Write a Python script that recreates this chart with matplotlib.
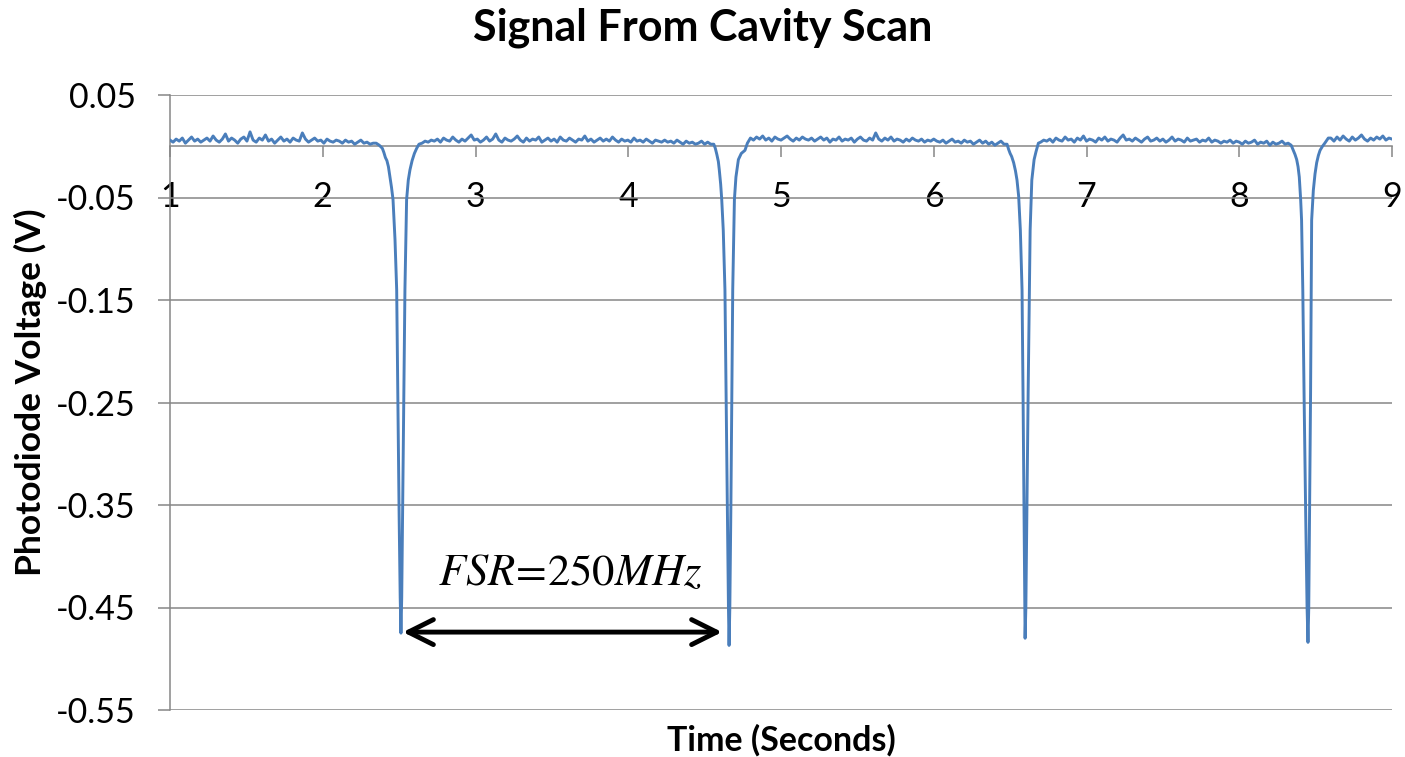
import numpy as np
import matplotlib
matplotlib.use("Agg")
import matplotlib.pyplot as plt

plt.rcParams['font.family'] = ['Lato', 'DejaVu Sans']
plt.rcParams['mathtext.fontset'] = 'stix'

# photodiode trace, baseline stretches (mV) sampled evenly between the given times
base_a_span = (1.00, 2.33)
base_a_mv = [6, 4, 7, 5, 8, 3, 6, 9, 5, 7,
             4, 6, 8, 5, 10, 6, 4, 7, 12, 5,
             8, 6, 3, 7, 9, 5, 14, 6, 4, 8,
             6, 11, 5, 7, 3, 6, 9, 5, 7, 4,
             8, 6, 5, 13, 7, 4, 6, 8, 5, 6,
             3, 7, 5, 4, 6, 5, 3, 6, 4, 5,
             2, 4, 6, 3, 4, 2, 3]
base_b_span = (2.65, 4.54)
base_b_mv = [3, 5, 4, 6, 5, 7, 4, 8, 6, 5,
             9, 6, 4, 7, 5, 8, 11, 6, 7, 4,
             6, 9, 5, 7, 12, 6, 4, 8, 6, 5,
             7, 10, 6, 4, 8, 5, 7, 6, 9, 4,
             6, 8, 5, 7, 4, 9, 6, 5, 8, 6,
             4, 7, 6, 10, 5, 7, 4, 6, 8, 5,
             7, 5, 9, 6, 4, 7, 5, 6, 4, 8,
             5, 6, 4, 7, 5, 3, 6, 5, 4, 6,
             4, 5, 3, 6, 4, 2, 5, 3, 4, 2,
             3, 5, 2, 4, 2]
base_c_span = (4.80, 6.46)
base_c_mv = [8, 6, 9, 7, 10, 6, 8, 5, 9, 7,
             6, 8, 10, 7, 5, 8, 6, 9, 7, 6,
             8, 5, 7, 9, 6, 8, 4, 7, 6, 9,
             5, 7, 6, 8, 4, 7, 9, 6, 5, 8,
             6, 13, 7, 5, 8, 6, 9, 5, 7, 6,
             4, 7, 5, 8, 6, 5, 7, 4, 6, 5,
             7, 5, 4, 6, 3, 5, 7, 4, 5, 3,
             6, 4, 5, 2, 4, 6, 3, 5, 2, 4,
             1, 3, 5, 2]
base_d_span = (6.70, 8.32)
base_d_mv = [4, 6, 5, 7, 4, 8, 6, 5, 9, 6,
             7, 4, 8, 6, 10, 5, 7, 6, 4, 8,
             6, 9, 5, 7, 6, 4, 8, 11, 6, 7,
             5, 8, 6, 4, 7, 9, 5, 6, 8, 5,
             7, 4, 6, 9, 5, 7, 6, 4, 8, 5,
             6, 7, 4, 6, 5, 8, 4, 6, 5, 3,
             5, 4, 6, 3, 5, 4, 2, 5, 3, 4,
             6, 2, 4, 3, 5, 1, 4, 2, 3, 5,
             2, 3]
base_e_span = (8.60, 9.00)
base_e_mv = [8, 5, 9, 6, 10, 7, 5, 9, 6, 8,
             11, 7, 5, 8, 6, 9, 7, 10, 6, 8, 7]

# transmission dips (time s, mV)
dip1_t = [2.35, 2.37, 2.39, 2.40, 2.41, 2.42, 2.43, 2.44, 2.45, 2.46, 2.473, 2.484,
          2.492, 2.500, 2.507, 2.512, 2.517, 2.524, 2.531, 2.538, 2.549, 2.56,
          2.571, 2.585, 2.60, 2.615, 2.63]
dip1_mv = [3, 1, -2, -6, -11, -14, -20, -30, -40, -52, -91, -140,
           -250, -360, -440, -475, -440, -340, -230, -140, -52, -33,
           -23, -14, -7, -2, 2]
dip2_t = [4.56, 4.57, 4.58, 4.59, 4.596, 4.605, 4.612, 4.622, 4.633, 4.641, 4.649,
          4.656, 4.660, 4.665, 4.672, 4.678, 4.684, 4.695, 4.705, 4.721, 4.74,
          4.764, 4.78]
dip2_mv = [2, -2, -8, -15, -23, -37, -52, -82, -140, -250, -360,
           -450, -487, -450, -350, -240, -140, -52, -30, -13, -7,
           -4, 3]
dip3_t = [6.48, 6.49, 6.50, 6.51, 6.523, 6.535, 6.545, 6.556, 6.567, 6.578, 6.585,
          6.591, 6.596, 6.598, 6.603, 6.610, 6.618, 6.626, 6.631, 6.642, 6.657,
          6.67, 6.685]
dip3_mv = [2, -3, -7, -10, -16, -24, -33, -49, -82, -140, -250,
           -360, -450, -480, -450, -350, -240, -140, -82, -33, -13,
           -5, 3]
dip4_t = [8.34, 8.354, 8.365, 8.376, 8.385, 8.393, 8.402, 8.408, 8.416, 8.425, 8.435,
          8.444, 8.450, 8.455, 8.461, 8.467, 8.471, 8.474, 8.485, 8.496, 8.507,
          8.518, 8.529, 8.545, 8.56, 8.583]
dip4_mv = [1, -4, -8, -13, -20, -30, -52, -72, -140, -250, -360,
           -450, -484, -450, -350, -240, -140, -72, -43, -27, -16,
           -9, -4, 0, 3, 8]

x_ticks = [1, 2, 3, 4, 5, 6, 7, 8, 9]
y_ticks = [0.05, -0.05, -0.15, -0.25, -0.35, -0.45, -0.55]
y_tick_labels = ['0.05', '-0.05', '-0.15', '-0.25', '-0.35', '-0.45', '-0.55']

fsr_start, fsr_end, fsr_level = 2.525, 4.614, -0.474
fsr_label = r'$FSR\!=\!250MHz$'


def stretch(span, mv):
    return np.linspace(span[0], span[1], len(mv)), np.array(mv, dtype=float)


pieces = [stretch(base_a_span, base_a_mv), (np.array(dip1_t), np.array(dip1_mv, float)),
          stretch(base_b_span, base_b_mv), (np.array(dip2_t), np.array(dip2_mv, float)),
          stretch(base_c_span, base_c_mv), (np.array(dip3_t), np.array(dip3_mv, float)),
          stretch(base_d_span, base_d_mv), (np.array(dip4_t), np.array(dip4_mv, float)),
          stretch(base_e_span, base_e_mv)]
time_s = np.concatenate([p[0] for p in pieces])
volts = np.concatenate([p[1] for p in pieces]) / 1000.0

grey = '#868686'
fig = plt.figure(figsize=(14.05, 7.57), dpi=100)
ax = fig.add_axes([170 / 1405, 1 - 710 / 757, 1222 / 1405, 615 / 757])

ax.plot(time_s, volts, color='#4a7ebb', lw=2.1, zorder=3)

ax.set_xlim(1, 9)
ax.set_ylim(-0.55, 0.05)
ax.set_xticks(x_ticks)
ax.set_yticks(y_ticks)
ax.set_yticklabels(y_tick_labels)
ax.yaxis.grid(True, color=grey, lw=1.1)
ax.set_axisbelow(True)

ax.spines['top'].set_visible(False)
ax.spines['right'].set_visible(False)
ax.spines['bottom'].set_position(('data', 0))
for s in ('left', 'bottom'):
    ax.spines[s].set_color(grey)
    ax.spines[s].set_linewidth(1.1)
ax.tick_params(axis='x', direction='out', length=8, width=1.1, color=grey,
               labelsize=24.5, pad=17)
ax.tick_params(axis='y', direction='out', length=8.5, width=1.1, color=grey,
               labelsize=24.5, pad=16)
for lbl in ax.get_xticklabels() + ax.get_yticklabels():
    lbl.set_clip_on(False)

# free spectral range marker
ax.annotate('', xy=(fsr_end, fsr_level), xytext=(fsr_start, fsr_level),
            arrowprops=dict(arrowstyle='<->,head_length=0.9,head_width=0.45',
                            lw=3.5, color='black', mutation_scale=20,
                            shrinkA=0, shrinkB=0),
            zorder=4)
ax.text((fsr_start + fsr_end) / 2 + 0.05, -0.4155, fsr_label, fontsize=32,
        ha='center', va='center', zorder=4)

fig.text(0.5, 1 - 28 / 757, 'Signal From Cavity Scan', fontsize=31,
         fontweight='bold', ha='center', va='center')
fig.text(781 / 1405, 1 - 740 / 757, 'Time (Seconds)', fontsize=24.5,
         fontweight='bold', ha='center', va='center')
fig.text(30 / 1405, 1 - 392 / 757, 'Photodiode Voltage (V)', fontsize=25.5,
         fontweight='bold', ha='center', va='center', rotation=90)

fig.savefig('out.png', dpi=100)
